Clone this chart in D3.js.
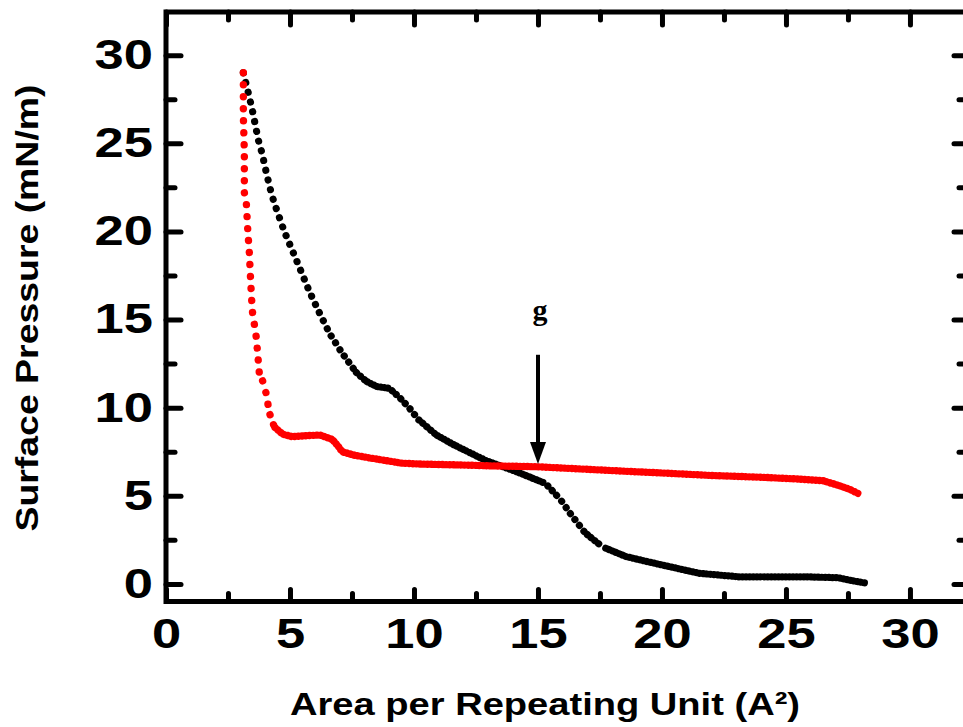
<!DOCTYPE html>
<html lang="en">
<head>
<meta charset="UTF-8">
<title>Surface pressure isotherms</title>
<script src="https://d3js.org/d3.v7.min.js"></script>
<style>
  body { margin: 0; background: #fff; }
  svg { display: block; }
  .tick text { font-family: "Liberation Sans", Arial, sans-serif; font-weight: bold; fill: #000; }
  .title { font-family: "Liberation Sans", Arial, sans-serif; font-weight: bold; font-size: 32px; fill: #000; }
</style>
</head>
<body>
<svg width="963" height="727"></svg>
<script>
// tick values
const xTicks = [0, 5, 10, 15, 20, 25, 30];
const xMinor = [2.5, 7.5, 12.5, 17.5, 22.5, 27.5];
const yTicks = [0, 5, 10, 15, 20, 25, 30];
const yMinor = [2.5, 7.5, 12.5, 17.5, 22.5, 27.5];

// red isotherm (area, pressure)
const redArea = [3.12, 3.12, 3.12, 3.16, 3.16, 3.24, 3.30, 3.36, 3.42, 3.48, 3.64, 3.70, 3.76, 3.90, 4.04, 4.17, 4.37,
  4.7, 5.1, 5.6, 6.2, 6.7, 6.95, 7.1, 7.6, 8.2, 9.5, 10.2, 11.8, 13, 14.9, 17, 19.1, 19.9, 22, 24, 25.5, 26.5, 27.1, 27.6, 27.95];
const redPressure = [29.0, 27.5, 26.5, 24.5, 22.2, 21.6, 20.0, 18.8, 17.0, 15.5, 14.0, 13.0, 12.0, 11.5, 10.8, 9.7, 8.9,
  8.5, 8.35, 8.4, 8.45, 8.2, 7.8, 7.5, 7.3, 7.15, 6.85, 6.8, 6.75, 6.7, 6.65, 6.5, 6.35, 6.3, 6.15, 6.05, 5.95, 5.85, 5.6, 5.35, 5.1];

// black isotherm
const blackArea = [3.12, 3.28, 3.48, 3.72, 3.88, 4.05, 4.24, 4.37, 4.77, 5.25, 5.78, 6.18, 6.6, 7.1, 7.67, 8.07, 8.5, 9.0,
  9.4, 9.8, 10.2, 10.9, 11.6, 12.9, 14.25, 15.3, 15.9, 16.3, 16.9, 17.6, 18.55, 19.6, 21.5, 23.1, 25.8, 27.1, 27.6, 28.2];
const blackPressure = [29.0, 28.1, 26.9, 25.2, 24.4, 23.3, 22.2, 21.6, 20.0, 18.4, 16.6, 15.4, 14.2, 13.1, 12.0, 11.5, 11.2, 11.1,
  10.6, 10.0, 9.3, 8.45, 7.9, 7.0, 6.3, 5.7, 4.8, 4.0, 2.9, 2.1, 1.55, 1.2, 0.6, 0.4, 0.4, 0.35, 0.2, 0.05];

// arrow annotation
const markX = 15, markFrom = 13, markTo = 6.8, markLabelY = 15, markLabel = "g";

const svg = d3.select("svg");
const x = d3.scaleLinear().domain([0, 32.3]).range([166, 967]);
const y = d3.scaleLinear().domain([-1, 32.45]).range([601.5, 12]);

function stretch(sel, k) {
  sel.each(function() {
    const w = this.getComputedTextLength();
    d3.select(this).attr("textLength", w * k).attr("lengthAdjust", "spacingAndGlyphs");
  });
}

function axis(fn, scale, ticks, size, pad, labels, tr) {
  const g = svg.append("g").attr("transform", tr)
    .call(fn(scale).tickValues(ticks).tickSizeInner(-size).tickSizeOuter(0).tickPadding(pad)
      .tickFormat(labels ? d3.format("d") : ""));
  g.select(".domain").remove();
  g.selectAll(".tick line").attr("stroke", "#000").attr("stroke-width", 5).attr("stroke-linecap", "round");
  g.selectAll(".tick text").style("font-size", "42px");
  if (labels) stretch(g.selectAll(".tick text"), 1.25);
  return g;
}

axis(d3.axisBottom, x, xTicks, 12, 17, true, "translate(0,601.5)");
axis(d3.axisBottom, x, xMinor, 8, 0, false, "translate(0,601.5)");
axis(d3.axisTop, x, xTicks, 13, 0, false, "translate(0,12)");
axis(d3.axisTop, x, xMinor, 8, 0, false, "translate(0,12)");
axis(d3.axisLeft, y, yTicks, 15, 13, true, "translate(166,0)");
axis(d3.axisLeft, y, yMinor, 9, 0, false, "translate(166,0)");
axis(d3.axisRight, y, yTicks, 13, 0, false, "translate(967,0)");
axis(d3.axisRight, y, yMinor, 8, 0, false, "translate(967,0)");

svg.append("rect")
  .attr("x", x(0)).attr("y", y(32.45))
  .attr("width", x(32.3) - x(0)).attr("height", y(-1) - y(32.45))
  .attr("fill", "none").attr("stroke", "#000").attr("stroke-width", 5);

// dotted where the curve is steep, near solid where it is flat
function series(xs, ys, color, w, period, s0) {
  const pts = xs.map((v, i) => [x(v), y(ys[i])]);
  const g = svg.append("g");
  let since = period;
  for (let i = 0; i < pts.length - 1; i++) {
    const [x0, y0] = pts[i], [x1, y1] = pts[i + 1];
    const len = Math.hypot(x1 - x0, y1 - y0);
    if (len === 0) continue;
    const s = Math.abs(y1 - y0) / len;
    const t = Math.max(0, Math.min(1, (s - s0) / (0.96 - s0)));
    const gap = w * 0.5 + t * (period - w * 0.5);
    const d0 = Math.max(0, gap - since);
    if (d0 > len) { since += len; continue; }
    const last = d0 + Math.floor((len - d0) / gap) * gap;
    since = len - last;
    g.append("path")
      .attr("d", d3.line()([pts[i], pts[i + 1]]))
      .attr("fill", "none").attr("stroke", color).attr("stroke-width", w)
      .attr("stroke-linecap", "round")
      .attr("stroke-dasharray", "0.01 " + gap)
      .attr("stroke-dashoffset", -d0);
  }
}

series(blackArea, blackPressure, "#000", 7.2, 10, 0.55);
series(redArea, redPressure, "#f00", 7.4, 12, 0.86);

// arrow and label
const ax = x(markX), ay0 = y(markFrom), ay1 = y(markTo);
svg.append("line").attr("x1", ax).attr("x2", ax).attr("y1", ay0).attr("y2", ay1 - 18)
  .attr("stroke", "#000").attr("stroke-width", 4);
svg.append("path")
  .attr("d", `M${ax - 8},${ay1 - 22}L${ax + 8},${ay1 - 22}L${ax},${ay1}Z`)
  .attr("fill", "#000");
svg.append("text").attr("x", ax + 2).attr("y", y(markLabelY))
  .attr("text-anchor", "middle")
  .style("font-family", "'Liberation Serif', 'Times New Roman', serif")
  .style("font-weight", "bold").style("font-size", "30px")
  .text(markLabel);

// axis titles
svg.append("text").attr("class", "title")
  .attr("x", 545).attr("y", 715).attr("text-anchor", "middle")
  .attr("textLength", 510).attr("lengthAdjust", "spacingAndGlyphs")
  .text("Area per Repeating Unit (A\u00B2)");
svg.append("text").attr("class", "title")
  .attr("transform", "translate(38,308) rotate(-90)").attr("text-anchor", "middle")
  .attr("textLength", 447).attr("lengthAdjust", "spacingAndGlyphs")
  .text("Surface Pressure (mN/m)");
</script>
</body>
</html>
